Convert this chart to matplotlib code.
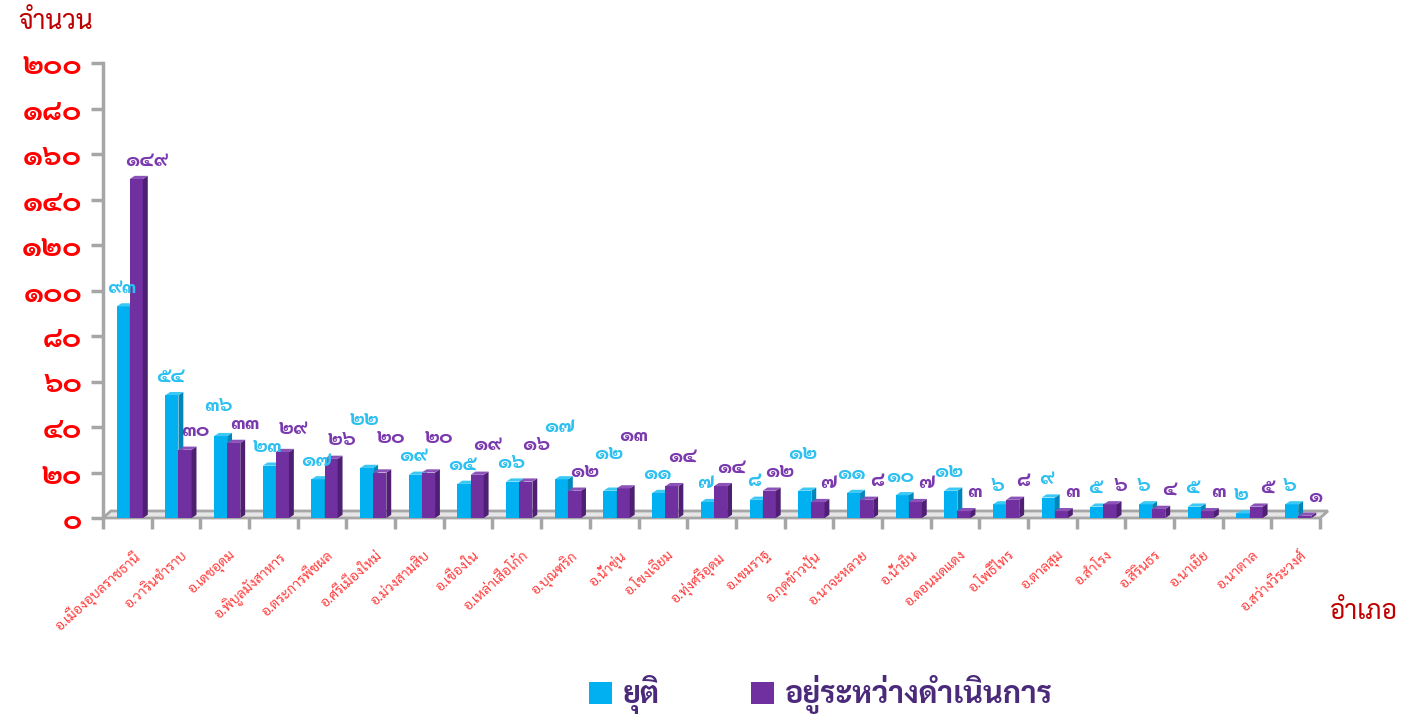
import matplotlib
matplotlib.use("Agg")
import matplotlib.pyplot as plt
from matplotlib import font_manager
from matplotlib.patches import Polygon, Patch
from matplotlib.ticker import FuncFormatter, FixedLocator

# ---------------- data ----------------
districts = [
    "อ.เมืองอุบลราชธานี", "อ.วารินชำราบ", "อ.เดชอุดม", "อ.พิบูลมังสาหาร",
    "อ.ตระการพืชผล", "อ.ศรีเมืองใหม่", "อ.ม่วงสามสิบ", "อ.เขื่องใน",
    "อ.เหล่าเสือโก้ก", "อ.บุณฑริก", "อ.น้ำขุ่น", "อ.โขงเจียม",
    "อ.ทุ่งศรีอุดม", "อ.เขมราฐ", "อ.กุดข้าวปุ้น", "อ.นาจะหลวย",
    "อ.น้ำยืน", "อ.ดอนมดแดง", "อ.โพธิ์ไทร", "อ.ตาลสุม",
    "อ.สำโรง", "อ.สิรินธร", "อ.นาเยีย", "อ.นาตาล", "อ.สว่างวีระวงศ์",
]
stopped = [93, 54, 36, 23, 17, 22, 19, 15, 16, 17, 12, 11, 7, 8, 12, 11, 10, 12, 6, 9, 5, 6, 5, 2, 6]
ongoing = [149, 30, 33, 29, 26, 20, 20, 19, 16, 12, 13, 14, 14, 12, 7, 8, 7, 3, 8, 3, 6, 4, 3, 5, 1]
series_names = ["ยุติ", "อยู่ระหว่างดำเนินการ"]
y_ticks = [0, 20, 40, 60, 80, 100, 120, 140, 160, 180, 200]
y_label = "จำนวน"
x_label = "อำเภอ"

# ---------------- fonts ----------------
bold_names = {f.name for f in font_manager.fontManager.ttflist if f.weight in (700, "bold")}
all_names = {f.name for f in font_manager.fontManager.ttflist}
thai_font = None
for cand in ["Sarabun", "Kanit", "Prompt", "Noto Sans Thai", "Bai Jamjuree", "Chakra Petch"]:
    if cand in bold_names:
        thai_font = cand
        break
if thai_font is None:
    for cand in ["Noto Sans Thai", "Sarabun", "Kanit", "Athiti"]:
        if cand in all_names:
            thai_font = cand
            break
fams = ([thai_font] if thai_font else []) + ["DejaVu Sans"]
plt.rcParams["font.family"] = fams

THAI_DIGITS = str.maketrans("0123456789", "๐๑๒๓๔๕๖๗๘๙")
def thai_num(v):
    return str(int(round(v))).translate(THAI_DIGITS)

# ---------------- colours ----------------
cy_front, cy_side, cy_top = "#00B0F0", "#0086B8", "#3CC8F5"
pu_front, pu_side, pu_top = "#7030A0", "#4E1F73", "#8B52B8"
axis_gray = "#A6A6A6"

W, H = 1416, 720
fig = plt.figure(figsize=(W / 100, H / 100), dpi=100)
ax_left, ax_right, ax_top, ax_bot = 103, 1325, 63, 518
ax = fig.add_axes([ax_left / W, 1 - ax_bot / H, (ax_right - ax_left) / W, (ax_bot - ax_top) / H])

n = len(districts)
xs = list(range(n))
ax.set_xlim(-0.5, n - 0.5 + 0.1)
ax.set_ylim(0, 200)

bw = 0.27
dx = 0.10   # depth in x (data units)
dy = 1.4    # depth in y (data units)

# floor
floor = Polygon([(-0.5, 0), (n - 0.5, 0), (n - 0.5 + dx * 1.6, dy * 2.2), (-0.5 + dx * 1.6, dy * 2.2)],
                closed=True, facecolor="#E6E6E6", edgecolor=axis_gray, lw=2.0, zorder=1, clip_on=False)
ax.add_patch(floor)

def bar3d(x0, h, front, side, top):
    ax.bar(x0, h, width=bw, align="edge", color=front, edgecolor="none", zorder=3)
    ax.add_patch(Polygon([(x0 + bw, 0), (x0 + bw + dx, dy), (x0 + bw + dx, h + dy), (x0 + bw, h)],
                         closed=True, facecolor=side, edgecolor="none", zorder=3))
    ax.add_patch(Polygon([(x0, h), (x0 + dx, h + dy), (x0 + bw + dx, h + dy), (x0 + bw, h)],
                         closed=True, facecolor=top, edgecolor="none", zorder=3))

labels = []
for i in xs:
    xc = i - 0.22
    xp = i + 0.05
    bar3d(xc, stopped[i], cy_front, cy_side, cy_top)
    bar3d(xp, ongoing[i], pu_front, pu_side, pu_top)
    a = ax.annotate(thai_num(stopped[i]), (xc + bw / 2 + dx / 2, stopped[i] + dy), xytext=(-3, 4),
                    textcoords="offset points", ha="center", va="bottom", color="#2EC0F0",
                    fontsize=15, fontweight="bold", zorder=5)
    b = ax.annotate(thai_num(ongoing[i]), (xp + bw / 2 + dx / 2, ongoing[i] + dy), xytext=(6, 4),
                    textcoords="offset points", ha="center", va="bottom", color="#7A3AAE",
                    fontsize=15, fontweight="bold", zorder=5)
    labels += [a, b]

# axes styling
for s in ["top", "right", "bottom"]:
    ax.spines[s].set_visible(False)
ax.spines["left"].set_color(axis_gray)
ax.spines["left"].set_linewidth(2.5)
ax.set_yticks(y_ticks)
ax.yaxis.set_major_formatter(FuncFormatter(lambda v, p: thai_num(v)))
ax.tick_params(axis="y", colors=axis_gray, width=2.5, length=9, pad=6)
for lab in ax.get_yticklabels():
    lab.set_color("#FF0000")
    lab.set_fontsize(21)
    lab.set_fontweight("bold")

ax.set_xticks([i + 0.1 for i in xs])
ax.set_xticklabels(districts, rotation=42, ha="right", va="top", rotation_mode="anchor",
                   color="#FF3B3B", fontsize=10)
ax.tick_params(axis="x", length=0, pad=22)
ax.xaxis.set_minor_locator(FixedLocator([i + 0.5 for i in range(-1, n)]))
ax.tick_params(axis="x", which="minor", length=8, width=2.5, color=axis_gray, direction="out")

fig.text(18 / W, 1 - 22 / H, y_label, color="#C00000", fontsize=19, ha="left", va="center")
fig.text(1364 / W, 1 - 612 / H, x_label, color="#C00000", fontsize=19, ha="center", va="center")

handles = [Patch(facecolor=cy_front, edgecolor="none"), Patch(facecolor=pu_front, edgecolor="none")]
leg = fig.legend(handles, series_names, loc="center", bbox_to_anchor=(821 / W, 1 - 695 / H), ncol=2,
                 frameon=False, handlelength=0.75, handleheight=0.75,
                 handletextpad=0.35, columnspacing=3.0, prop={"family": fams, "weight": "bold", "size": 22})
for t in leg.get_texts():
    t.set_color("#4B2A7B")

# --- nudge value labels upward so they do not collide ---
fig.canvas.draw()
renderer = fig.canvas.get_renderer()
px_per_pt = fig.dpi / 72.0
order = sorted(labels, key=lambda t: t.get_window_extent(renderer).y0)
placed = []
for t in order:
    for _ in range(40):
        bb = t.get_window_extent(renderer).shrunk(0.92, 0.80)
        hit = None
        for p in placed:
            pb = p.get_window_extent(renderer).shrunk(0.92, 0.80)
            if bb.overlaps(pb):
                hit = pb
                break
        if hit is None:
            break
        ox, oy = t.get_position() if False else t.xyann
        shift = (hit.y1 - bb.y0 + 1) / px_per_pt
        t.xyann = (ox, oy + shift)
    placed.append(t)

fig.savefig("out.png", dpi=100)
